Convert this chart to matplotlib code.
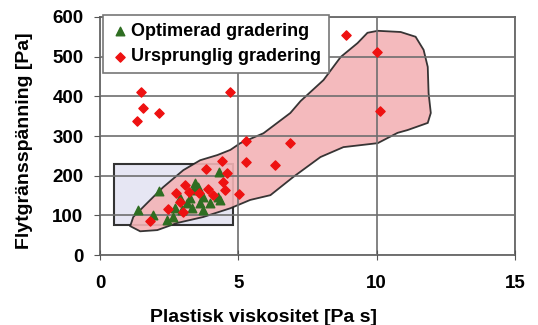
import matplotlib
matplotlib.use("Agg")
from matplotlib import pyplot as plt
from matplotlib.patches import Polygon, Rectangle

plt.rcParams['font.family'] = ['Liberation Sans', 'DejaVu Sans']
plt.rcParams['font.weight'] = 'bold'

# Ursprunglig gradering (red diamonds)
orig_x = [1.49, 4.71, 1.56, 2.14, 1.34, 8.88, 10.0, 10.14, 6.88, 6.34,
          5.29, 5.29, 5.04, 4.42, 3.84, 4.6, 4.46, 4.53, 3.08, 3.22,
          3.59, 3.91, 2.75, 2.9, 2.46, 3.0, 1.81, 4.1]
orig_y = [411, 411, 370, 358, 338, 554, 511, 363, 282, 227,
          287, 234, 154, 237, 217, 207, 184, 164, 176, 159,
          156, 166, 156, 134, 116, 108, 86, 151]

# Optimerad gradering (green triangles)
opt_x = [2.14, 1.38, 4.3, 3.44, 3.26, 3.62, 2.9, 3.15, 2.97, 2.65,
         2.43, 1.92, 3.73, 3.99, 4.28, 3.55, 3.37, 3.73, 2.72, 3.33, 4.35]
opt_y = [161, 113, 209, 181, 144, 131, 144, 131, 113, 96,
         88, 101, 113, 131, 146, 171, 164, 146, 118, 118, 139]

# outline of the shaded region of original gradings
region_x = [1.09, 1.20, 1.70, 2.28, 3.01, 3.62, 4.24, 4.71, 5.07, 5.91,
            6.88, 7.25, 8.08, 8.70, 9.31, 9.67, 10.04, 10.87, 11.41, 11.70,
            11.85, 11.88, 11.96, 11.85, 11.12, 10.76, 10.04, 8.80, 7.97, 6.99,
            6.16, 5.43, 4.71, 3.73, 2.79, 2.07, 1.45]
region_y = [73, 96, 131, 171, 214, 239, 252, 265, 282, 307,
            358, 388, 441, 499, 534, 560, 565, 562, 550, 517,
            474, 408, 358, 333, 315, 308, 282, 272, 247, 197,
            151, 139, 118, 96, 81, 63, 60]

# box around the optimised gradings
box_x = (0.5, 4.8)
box_y = (75, 230)

fig = plt.figure(figsize=(5.38, 3.25), dpi=100)
ax = fig.add_axes([0.186, 0.215, 0.771, 0.733])

ax.add_patch(Rectangle((box_x[0], box_y[0]), box_x[1] - box_x[0], box_y[1] - box_y[0],
                       facecolor='#e6e6f3', edgecolor='#333333', lw=1.5, zorder=1))
ax.add_patch(Polygon(list(zip(region_x, region_y)), closed=True,
                     facecolor='#f3b3b6', edgecolor='#222222', lw=1.3,
                     alpha=0.9, zorder=1.2))

ax.scatter(opt_x, opt_y, marker='^', s=38, color='#2f6e22', zorder=3,
           label='Optimerad gradering')
ax.scatter(orig_x, orig_y, marker='D', s=22, color='#ee1111', zorder=3,
           label='Ursprunglig gradering')

ax.set_xlim(0, 15)
ax.set_ylim(0, 600)
ax.set_xticks([0, 5, 10, 15])
ax.set_yticks(range(0, 601, 100))
ax.set_axisbelow(False)
ax.grid(True, color='#6e6e6e', lw=1.2)

for s in ax.spines.values():
    s.set_color('#666666')
    s.set_linewidth(1.3)

ax.tick_params(axis='x', direction='inout', length=7, pad=11, labelsize=13.5,
               color='#555555')
ax.tick_params(axis='y', direction='out', length=4, pad=8, labelsize=13.5,
               color='#555555')
for lab in ax.get_xticklabels() + ax.get_yticklabels():
    lab.set_fontweight('bold')

ax.set_xlabel('Plastisk viskositet [Pa s]', fontsize=14, fontweight='bold')
ax.xaxis.set_label_coords(0.393, -0.225)
ax.set_ylabel('Flytgränsspänning [Pa]', fontsize=14, fontweight='bold')
ax.yaxis.set_label_coords(-0.162, 0.48)

leg = ax.legend(loc='upper left', bbox_to_anchor=(0.007, 1.008), fontsize=13,
                frameon=True, fancybox=False, borderpad=0.45, handletextpad=0.1,
                handlelength=1.0, labelspacing=0.45, borderaxespad=0)
leg.get_frame().set_edgecolor('#777777')
leg.get_frame().set_linewidth(1.2)
leg.get_frame().set_alpha(1)
for t in leg.get_texts():
    t.set_fontweight('bold')

fig.savefig('out.png', dpi=100)
